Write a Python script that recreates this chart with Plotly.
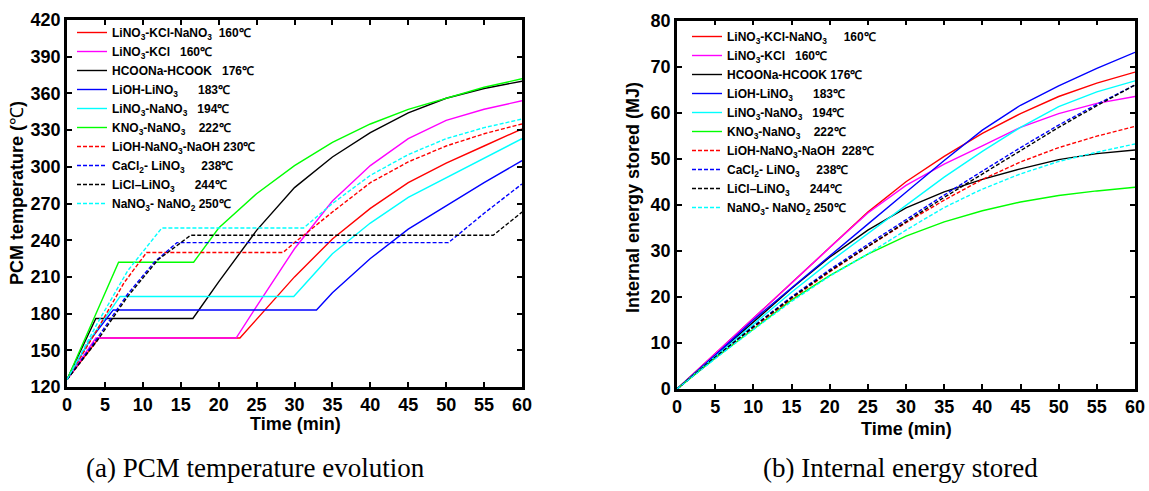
import plotly.graph_objects as go

W, H = 1149, 491

# ---------------- Panel (a): PCM temperature (time in min, temperature in C) ----------------
red_t = [0, 4.2, 22.8, 25, 30, 35, 40, 45, 50, 55, 60]
red_T = [126, 160, 160, 175, 210, 241, 266, 287, 303, 317, 331]
mag_t = [0, 3.8, 22.3, 25, 30, 35, 40, 45, 50, 55, 60]
mag_T = [126, 160, 160, 186, 233, 272, 301, 323, 338, 347, 354]
blk_t = [0, 3.8, 16.6, 20, 25, 30, 35, 40, 45, 50, 55, 60]
blk_T = [126, 176, 176, 206, 248, 283, 308, 328, 344, 356, 364, 370]
blu_t = [0, 3, 6.1, 32.9, 35, 40, 45, 50, 55, 60]
blu_T = [126, 158, 183, 183, 197, 225, 249, 268, 287, 305]
cyn_t = [0, 3.5, 7.0, 29.9, 35, 40, 45, 50, 55, 60]
cyn_T = [126, 163, 194, 194, 229, 254, 275, 291, 307, 323]
grn_t = [0, 6.8, 16.7, 20, 25, 30, 35, 40, 45, 50, 55, 60]
grn_T = [126, 222, 222, 250, 278, 301, 320, 335, 347, 356, 365, 372]
rdd_t = [0, 4, 7.5, 10.5, 28.5, 30, 35, 40, 45, 50, 55, 60]
rdd_T = [126, 167, 205, 230, 230, 238, 263, 287, 304, 317, 327, 335]
bld_t = [0, 4, 8, 11.5, 14.5, 50.3, 55, 60]
bld_T = [126, 160, 196, 222, 238, 238, 262, 286]
bkd_t = [0, 4, 8, 12, 16.3, 56.2, 60]
bkd_T = [126, 158, 194, 224, 244, 244, 263]
cyd_t = [0, 4, 8, 12.5, 31.2, 35, 40, 45, 50, 55, 60]
cyd_T = [126, 172, 215, 250, 250, 270, 293, 310, 323, 332, 339]

# ---------------- Panel (b): internal energy stored (MJ) ----------------
e_t = [0, 5, 10, 15, 20, 25, 30, 35, 40, 45, 50, 55, 60]
red_E = [0, 7.6, 15.3, 23.0, 30.7, 38.4, 45.0, 50.5, 55.5, 59.8, 63.5, 66.4, 68.8]
mag_E = [0, 7.6, 15.3, 23.0, 30.7, 38.2, 44.2, 48.8, 52.8, 56.8, 59.8, 62.0, 63.5]
blk_E = [0, 7.2, 14.6, 21.8, 28.6, 34.5, 39.3, 42.8, 45.5, 47.8, 49.8, 51.1, 51.9]
blu_E = [0, 7.3, 15.0, 22.0, 29.0, 35.8, 42.7, 49.6, 56.2, 61.6, 65.8, 69.6, 73.1]
cyn_E = [0, 7.0, 14.2, 21.0, 27.6, 33.8, 40.0, 46.0, 51.6, 56.8, 61.3, 64.5, 66.9]
grn_E = [0, 6.7, 13.0, 19.3, 24.6, 29.3, 33.2, 36.3, 38.7, 40.6, 42.0, 43.0, 43.8]
rdd_E = [0, 6.8, 13.3, 19.6, 25.4, 30.9, 36.1, 41.0, 45.5, 49.3, 52.4, 54.9, 57.0]
bld_E = [0, 6.9, 13.6, 20.0, 25.9, 31.4, 36.8, 42.1, 47.3, 52.4, 57.3, 61.8, 66.0]
bkd_E = [0, 6.9, 13.5, 19.8, 25.6, 31.0, 36.3, 41.6, 46.7, 51.8, 56.8, 61.5, 66.0]
cyd_E = [0, 6.6, 12.9, 19.0, 24.5, 29.3, 34.5, 39.4, 43.4, 46.7, 49.4, 51.4, 53.2]

NB = "\u00a0"
labels_a = [
    f"LiNO<sub>3</sub>-KCl-NaNO<sub>3</sub>{NB*2}160℃",
    f"LiNO<sub>3</sub>-KCl{NB*3}160℃",
    f"HCOONa-HCOOK{NB*3}176℃",
    f"LiOH-LiNO<sub>3</sub>{NB*6}183℃",
    f"LiNO<sub>3</sub>-NaNO<sub>3</sub>{NB*3}194℃",
    f"KNO<sub>3</sub>-NaNO<sub>3</sub>{NB*4}222℃",
    f"LiOH-NaNO<sub>3</sub>-NaOH 230℃",
    f"CaCl<sub>2</sub>- LiNO<sub>3</sub>{NB*5}238℃",
    f"LiCl–LiNO<sub>3</sub>{NB*6}244℃",
    f"NaNO<sub>3</sub>- NaNO<sub>2</sub> 250℃",
]
labels_b = [
    f"LiNO<sub>3</sub>-KCl-NaNO<sub>3</sub>{NB*5}160℃",
    f"LiNO<sub>3</sub>-KCl{NB*3}160℃",
    f"HCOONa-HCOOK 176℃",
    f"LiOH-LiNO<sub>3</sub>{NB*6}183℃",
    f"LiNO<sub>3</sub>-NaNO<sub>3</sub>{NB*3}194℃",
    f"KNO<sub>3</sub>-NaNO<sub>3</sub>{NB*4}222℃",
    f"LiOH-NaNO<sub>3</sub>-NaOH{NB*2}228℃",
    f"CaCl<sub>2</sub>- LiNO<sub>3</sub>{NB*5}238℃",
    f"LiCl–LiNO<sub>3</sub>{NB*6}244℃",
    f"NaNO<sub>3</sub>- NaNO<sub>2</sub> 250℃",
]

colors = ["#FF0000", "#FF00FF", "#000000", "#0000FF", "#00FFFF", "#00FF00",
          "#FF0000", "#0000FF", "#000000", "#00FFFF"]
dashes = ["solid"] * 6 + ["4px,2px"] * 4

series_a = [(red_t, red_T), (mag_t, mag_T), (blk_t, blk_T), (blu_t, blu_T), (cyn_t, cyn_T),
            (grn_t, grn_T), (rdd_t, rdd_T), (bld_t, bld_T), (bkd_t, bkd_T), (cyd_t, cyd_T)]
series_b = [red_E, mag_E, blk_E, blu_E, cyn_E, grn_E, rdd_E, bld_E, bkd_E, cyd_E]

fig = go.Figure()
for i, (tx, ty) in enumerate(series_a):
    fig.add_trace(go.Scatter(x=tx, y=ty, mode="lines", name=labels_a[i],
                             line=dict(color=colors[i], width=1.4, dash=dashes[i]),
                             xaxis="x", yaxis="y", legend="legend"))
for i, ey in enumerate(series_b):
    fig.add_trace(go.Scatter(x=e_t, y=ey, mode="lines", name=labels_b[i],
                             line=dict(color=colors[i], width=1.4, dash=dashes[i]),
                             xaxis="x2", yaxis="y2", legend="legend2"))

def px_x(p):
    return p / W

def px_y(p):
    return 1 - p / H

tickfont = dict(family="Liberation Sans, Arial", size=18, color="black", weight="bold")
axis_common = dict(showline=True, linewidth=2.5, linecolor="black", mirror="allticks",
                   ticks="inside", ticklen=5, tickwidth=2, tickcolor="black",
                   showgrid=False, zeroline=False, tickfont=tickfont, automargin=False)

legfont = dict(family="Liberation Sans, Arial", size=12, color="black", weight="bold")
fig.update_layout(
    width=W, height=H,
    margin=dict(l=0, r=0, t=0, b=0),
    paper_bgcolor="white", plot_bgcolor="white",
    font=dict(family="Liberation Sans, Arial", color="black"),
    xaxis=dict(domain=[px_x(67), px_x(522)], range=[0, 60], dtick=5, tick0=0, anchor="y", **axis_common),
    yaxis=dict(domain=[px_y(387), px_y(20)], range=[120, 420], dtick=30, tick0=120, anchor="x", **axis_common),
    xaxis2=dict(domain=[px_x(677), px_x(1135)], range=[0, 60], dtick=5, tick0=0, anchor="y2", **axis_common),
    yaxis2=dict(domain=[px_y(389), px_y(20.5)], range=[0, 80], dtick=10, tick0=0, anchor="x2", **axis_common),
    legend=dict(x=px_x(72), y=px_y(18), xanchor="left", yanchor="top",
                bgcolor="rgba(0,0,0,0)", borderwidth=0, font=legfont, tracegroupgap=0),
    legend2=dict(x=px_x(687), y=px_y(22), xanchor="left", yanchor="top",
                 bgcolor="rgba(0,0,0,0)", borderwidth=0, font=legfont, tracegroupgap=0),
    showlegend=True,
)

title_font = dict(family="Liberation Sans, Arial", size=18, color="black", weight="bold")
cap_font = dict(family="Liberation Serif, Times New Roman", size=27, color="black")
annots = [
    dict(text="Time (min)", x=px_x(295), y=px_y(424), font=title_font, textangle=0),
    dict(text="Time (min)", x=px_x(906), y=px_y(429), font=title_font, textangle=0),
    dict(text="PCM temperature (<span style='font-weight:normal'>℃</span>)", x=px_x(17), y=px_y(193),
         font=title_font, textangle=-90),
    dict(text="Internal energy stored (MJ)", x=px_x(633), y=px_y(198), font=title_font, textangle=-90),
    dict(text="(a) PCM temperature evolution", x=px_x(255), y=px_y(468), font=cap_font, textangle=0),
    dict(text="(b) Internal energy stored", x=px_x(900), y=px_y(468), font=cap_font, textangle=0),
]
for a in annots:
    fig.add_annotation(xref="paper", yref="paper", showarrow=False,
                       xanchor="center", yanchor="middle", **a)

fig.write_html("out.html", config={"displayModeBar": False},
               post_script="document.body.style.margin='0';document.body.style.padding='0';"
                           "document.body.style.overflow='hidden';")
